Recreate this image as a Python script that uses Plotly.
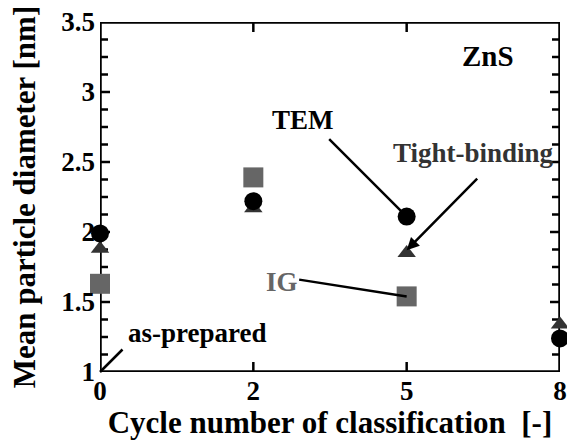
import plotly.graph_objects as go

cycles = ["0", "2", "5", "8"]
tem = [1.99, 2.22, 2.11, 1.24]
tight_binding = [1.88, 2.17, 1.85, 1.34]
ig = [1.63, 2.39, 1.54, None]
y_major = [1, 1.5, 2, 2.5, 3, 3.5]
y_step = 0.125

pos = list(range(len(cycles)))
FONT = "Liberation Serif"
W, H = 567, 440
ML, MR, MT, MB = 100, 7, 22, 68
PW, PH = W - ML - MR, H - MT - MB
XR = [pos[0], pos[-1]]
YR = [y_major[0], y_major[-1]]

y_ticks = [y_major[0] + i * y_step for i in range(int(round((YR[1] - YR[0]) / y_step)) + 1)]
is_major = [any(abs(v - m) < 1e-9 for m in y_major) for v in y_ticks]

fig = go.Figure()

# frame + inside ticks drawn as line traces derived from the axis ranges/tick lists
fx = [XR[0], XR[1], XR[1], XR[0], XR[0]]
fy = [YR[0], YR[0], YR[1], YR[1], YR[0]]
fig.add_trace(go.Scatter(x=fx, y=fy, mode="lines", cliponaxis=False, hoverinfo="skip",
                         line=dict(color="black", width=3.5)))
tx, ty = [], []
dx_len = (YR[1] - YR[0]) * 10 / PH
for p in pos[1:-1]:
    tx += [p, p, None, p, p, None]
    ty += [YR[0], YR[0] + dx_len, None, YR[1], YR[1] - dx_len, None]
for v, mj in zip(y_ticks[1:-1], is_major[1:-1]):
    L = (XR[1] - XR[0]) * (10 if mj else 8) / PW
    tx += [XR[0], XR[0] + L, None, XR[1], XR[1] - L, None]
    ty += [v, v, None, v, v, None]
fig.add_trace(go.Scatter(x=tx, y=ty, mode="lines", cliponaxis=False, hoverinfo="skip",
                         line=dict(color="black", width=2.5)))

fig.add_trace(go.Scatter(x=pos, y=ig, mode="markers", cliponaxis=False,
                         marker=dict(symbol="square", size=20, color="#666666"), name="IG"))
fig.add_trace(go.Scatter(x=pos, y=tight_binding, mode="markers", cliponaxis=False,
                         marker=dict(symbol="triangle-up", size=16, color="#333333"), name="Tight-binding"))
fig.add_trace(go.Scatter(x=pos, y=tem, mode="markers", cliponaxis=False,
                         marker=dict(symbol="circle", size=18, color="black"), name="TEM"))

def label(x, y, text, color="black", size=27):
    fig.add_annotation(x=x, y=y, xref="x", yref="y", text="<b>" + text + "</b>", showarrow=False,
                       font=dict(family=FONT, size=size, color=color))

def line(x, y, ax, ay, head=0):
    fig.add_annotation(x=x, y=y, xref="x", yref="y", text="", showarrow=True,
                       ax=ax, ay=ay, axref="pixel", ayref="pixel",
                       arrowhead=head, arrowsize=1, arrowwidth=2.5, arrowcolor="black")

label(2.53, 3.26, "ZnS", size=29)
label(1.324, 2.8, "TEM")
label(2.435, 2.564, "Tight-binding", color="#333333")
label(1.187, 1.643, "IG", color="#666666")
label(0.639, 1.279, "as-prepared")

line(pos[2], tem[2], -79, -79)
line(pos[2], tight_binding[2] + 0.02, 72, -73, head=2)
line(pos[2], ig[2], -109, -17)
line(pos[0], YR[0], 24, -24)

tickfont = dict(family=FONT, size=27, color="black", weight="bold")
titlefont = dict(family=FONT, size=31, color="black", weight="bold")

fig.update_layout(
    width=W, height=H, margin=dict(l=ML, r=MR, t=MT, b=MB, autoexpand=False),
    plot_bgcolor="white", paper_bgcolor="white", showlegend=False,
    xaxis=dict(
        range=XR, tickmode="array", tickvals=pos, ticktext=["<b>%s</b>" % c for c in cycles],
        showline=False, ticks="", showgrid=False, zeroline=False, tickfont=tickfont,
        automargin=False,
        title=dict(text="<b>Cycle number of classification  [-]</b>", standoff=3, font=titlefont),
    ),
    yaxis=dict(
        range=YR, tickmode="array", tickvals=y_major, ticktext=["<b>%g</b>" % v for v in y_major],
        showline=False, ticks="", showgrid=False, zeroline=False, tickfont=tickfont,
        automargin=False, ticklabelstandoff=4,
        title=dict(text="<b>Mean particle diameter [nm]</b>", standoff=16, font=titlefont),
    ),
)

fig.write_html("out.html")
